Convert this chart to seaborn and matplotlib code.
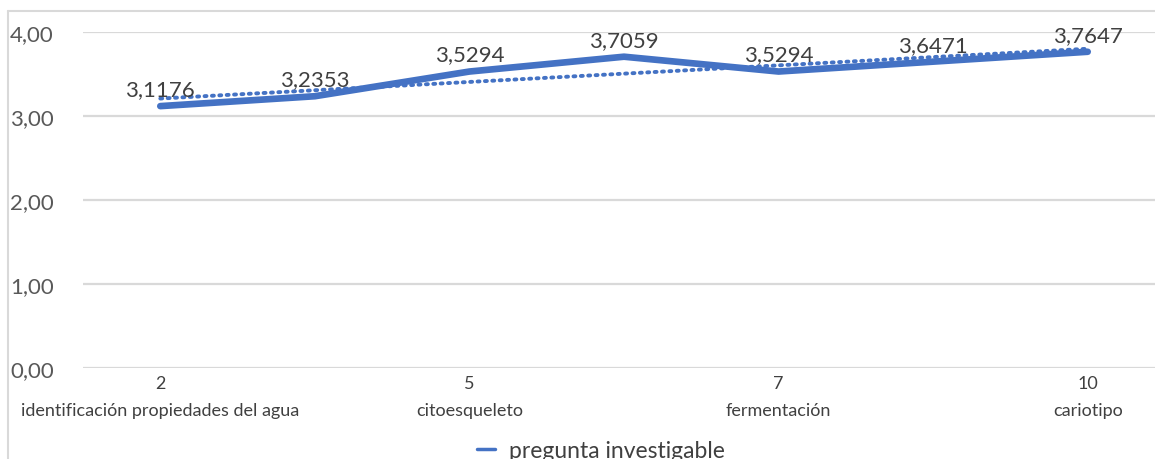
import matplotlib
matplotlib.use("Agg")
import matplotlib.pyplot as plt
import matplotlib.transforms as mtransforms
import seaborn as sns
import pandas as pd
import numpy as np
from matplotlib.lines import Line2D

# Mean score per activity
activity_numbers = ["2", "4", "5", "6", "7", "8", "10"]
activity_names = ["identificación propiedades del agua", "", "citoesqueleto", "",
                  "fermentación", "", "cariotipo"]
scores = [3.1176, 3.2353, 3.5294, 3.7059, 3.5294, 3.6471, 3.7647]
series_name = "pregunta investigable"
y_ticks = [0, 1, 2, 3, 4]

sns.set_theme(style="white")
plt.rcParams["font.family"] = ["Lato", "DejaVu Sans"]

df = pd.DataFrame({"pos": np.arange(len(scores)), "score": scores})

fig = plt.figure(figsize=(11.55, 4.6), dpi=100)
ax = fig.add_axes([83 / 1155, 91 / 460, (1165 - 83) / 1155, (427 - 91) / 460])

blue = "#4472C4"
grid_c = "#d9d9d9"

# linear trend line (dotted)
sns.regplot(data=df, x="pos", y="score", ax=ax, scatter=False, ci=None,
            line_kws=dict(color=blue, lw=2.8, ls=(0, (0.5, 1.4)),
                          dash_capstyle="round", zorder=3))
# main series
sns.lineplot(data=df, x="pos", y="score", ax=ax, color=blue, lw=4.8,
             zorder=4, legend=False)

for x, v in zip(df["pos"], scores):
    ax.annotate(f"{v:.4f}".replace(".", ","), (x, v), xytext=(0, 5),
                textcoords="offset points", ha="center", va="bottom",
                fontsize=16, color="#404040", zorder=5)

ax.set_xlim(-0.5, len(scores) - 0.5)
ax.set_ylim(0, 4)
ax.set_yticks(y_ticks)
ax.set_yticklabels([f"{t:.2f}".replace(".", ",") for t in y_ticks],
                   fontsize=16, color="#595959")
shown = [0, 2, 4, 6]
ax.set_xticks(shown)
ax.set_xticklabels([activity_numbers[i] for i in shown],
                   fontsize=13, color="#404040")
ax.tick_params(axis="both", length=0)
ax.tick_params(axis="y", pad=21)
ax.tick_params(axis="x", pad=5)
for lab in ax.get_yticklabels():
    lab.set_horizontalalignment("right")

# activity names on a second row under the numbers
name_tf = mtransforms.blended_transform_factory(ax.transData, ax.transAxes)
for i in shown:
    ax.annotate(activity_names[i], (i, 0), xycoords=name_tf, xytext=(0, -24.5),
                textcoords="offset points", ha="center", va="top",
                fontsize=13, color="#404040", annotation_clip=False)

ax.yaxis.grid(True, color=grid_c, lw=1.6)
ax.xaxis.grid(False)
for s in ax.spines.values():
    s.set_visible(False)
ax.set_xlabel("")
ax.set_ylabel("")

# outer chart frame
fig.add_artist(Line2D([8 / 1155, 1], [1 - 12 / 460, 1 - 12 / 460],
                      transform=fig.transFigure, color=grid_c, lw=1.5))
fig.add_artist(Line2D([8 / 1155, 8 / 1155], [0, 1 - 12 / 460],
                      transform=fig.transFigure, color=grid_c, lw=1.5))

handle = Line2D([], [], color=blue, lw=2.5)
fig.legend([handle], [series_name], loc="center", bbox_to_anchor=(0.52, 0.018),
           frameon=False, fontsize=16.5, handlelength=0.8, handletextpad=0.6,
           labelcolor="#404040")

fig.savefig("out.png", dpi=100)
